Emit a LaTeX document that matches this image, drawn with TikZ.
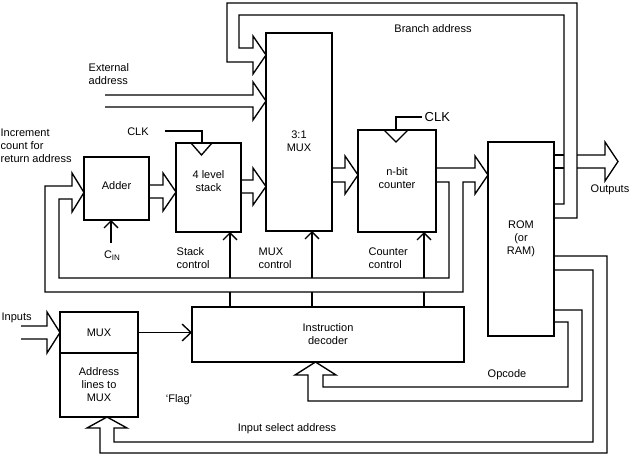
\documentclass[tikz,border=0pt]{standalone}
\usepackage{fontspec}
\setmainfont{Liberation Sans}
\usetikzlibrary{arrows.meta}
\newcommand\dgfont{\fontsize{11}{13}\selectfont}
\begin{document}
\begin{tikzpicture}[x=1pt,y=-1pt,line width=1.35pt,line join=miter,
  box/.style={draw,inner sep=0pt,outer sep=0pt,anchor=north west,align=center,font=\dgfont},
  lbl/.style={inner sep=0pt,align=left,font=\dgfont},
  ctl/.style={-{Straight Barb[length=7pt,width=14pt,line width=1.35pt]}},
  thin/.style={-{Straight Barb[length=9pt,width=17pt,line width=1.35pt]}},
]
\useasboundingbox (0,0) rectangle (631,457);
% blocks
\node[box,minimum width=65pt,minimum height=63pt] (adder) at (84,157) {};
\node[box,minimum width=65pt,minimum height=89pt] (stack) at (176,143) {};
\node[box,minimum width=66pt,minimum height=198pt] (mux3) at (266,33) {};
\node[box,minimum width=78pt,minimum height=102pt] (counter) at (358,130) {};
\node[box,minimum width=66pt,minimum height=194pt] (rom) at (488,142) {ROM\\(or\\RAM)};
\node[box,minimum width=272pt,minimum height=55pt] (decoder) at (192,307) {Instruction\\decoder};
\node[box,minimum width=78pt,minimum height=41pt] (imux) at (60,312) {MUX};
\node[box,minimum width=78pt,minimum height=64pt] (addr) at (60,353) {Address\\lines to\\MUX};
% block texts
\node[lbl,align=center] (addertxt) at (116.5,186) {Adder};
\node[lbl,align=center] (stacktxt) at (208.5,181) {4 level\\stack};
\node[lbl,align=center] (muxtxt) at (299,141.5) {3:1\\MUX};
\node[lbl,align=center] (countertxt) at (397,178.5) {n-bit\\counter};
% clocks
\draw (165,131) -- (202,131) -- (202,143);
\draw (191,143) -- (201.5,155) -- (212,143);
\node[lbl] (clk1) at (138,132) {CLK};
\draw (422,117) -- (396,117) -- (396,130);
\draw (384,130) -- (396,142) -- (408,130);
\node[lbl,anchor=west,font=\fontsize{13}{15}\selectfont] (clk2) at (424,117) {CLK};
% branch address bus
\draw (554,218) -- (577,218) -- (577,3) -- (227,3) -- (227,62) -- (253,62) -- (253,74) -- (266,55) -- (253,36) -- (253,48) -- (239,48) -- (239,15) -- (564,15) -- (564,204) -- (554,204);
\node[lbl] (branch) at (433,29) {Branch address};
% external address
\draw (105,95) -- (253,95) -- (253,82) -- (266,101) -- (253,120) -- (253,107) -- (105,107);
\node[lbl,anchor=west] (ext) at (88,74.5) {External\\address};
% adder -> stack
\draw (149,185) -- (163,185) -- (163,173) -- (176,192) -- (163,211) -- (163,198) -- (149,198);
% stack -> mux
\draw (241,180) -- (253,180) -- (253,168) -- (266,186.5) -- (253,205) -- (253,193) -- (241,193);
% mux -> counter
\draw (332,168) -- (345,168) -- (345,156) -- (358,175) -- (345,194) -- (345,182) -- (332,182);
% counter -> rom with feedback
\draw (436,168) -- (475,168) -- (475,156) -- (488,175) -- (475,194) -- (475,182) -- (463,182) -- (463,292) -- (45,292) -- (45,186) -- (72,186) -- (72,173) -- (84,192.5) -- (72,212) -- (72,199) -- (59,199) -- (59,278) -- (449,278) -- (449,182) -- (436,182);
\node[lbl,anchor=west] (incr) at (0,146) {Increment\\count for\\return address};
% outputs
\draw (554,155) -- (564,155);
\draw (554,168) -- (564,168);
\draw (577,155) -- (605,155) -- (605,142) -- (618,161.5) -- (605,181) -- (605,168) -- (577,168);
\node[lbl] (outs) at (610,190) {Outputs};
% control lines
\draw (230,307) -- (230,292);
\draw[ctl] (230,278) -- (230,232);
\draw (312,307) -- (312,292);
\draw[ctl] (312,278) -- (312,231);
\draw (424,307) -- (424,292);
\draw[ctl] (424,278) -- (424,232);
\node[lbl,anchor=west] (sc) at (176,258.5) {Stack\\control};
\node[lbl,anchor=west] (mc) at (258,258.5) {MUX\\control};
\node[lbl,anchor=west] (cc) at (368,258.5) {Counter\\control};
% carry in
\draw[ctl] (111,243) -- (111,220);
\node[lbl] (cin) at (112,256) {C{\fontsize{8}{9}\selectfont\raisebox{-0.45ex}{IN}}};
% inputs
\draw (21,326) -- (47,326) -- (47,312) -- (60,332.5) -- (47,353) -- (47,339) -- (21,339);
\node[lbl,anchor=west] (inputs) at (1,318) {Inputs};
% mux -> decoder
\draw[thin] (imux.east) -- (imux.east -| decoder.west);
\node[lbl] (flag) at (179,400) {‘Flag’};
% input select address
\draw (554,256) -- (607,256) -- (607,453) -- (100,453) -- (100,428) -- (87,428) -- (107,417) -- (127,428) -- (114,428) -- (114,442) -- (593,442) -- (593,270) -- (554,270);
\node[lbl] (isa) at (287,429) {Input select address};
% opcode
\draw (554,310) -- (582,310) -- (582,401) -- (308,401) -- (308,375) -- (295,375) -- (315.5,362) -- (336,375) -- (323,375) -- (323,387) -- (568,387) -- (568,322) -- (554,322);
\node[lbl] (opc) at (507,375) {Opcode};
\end{tikzpicture}
\end{document}
